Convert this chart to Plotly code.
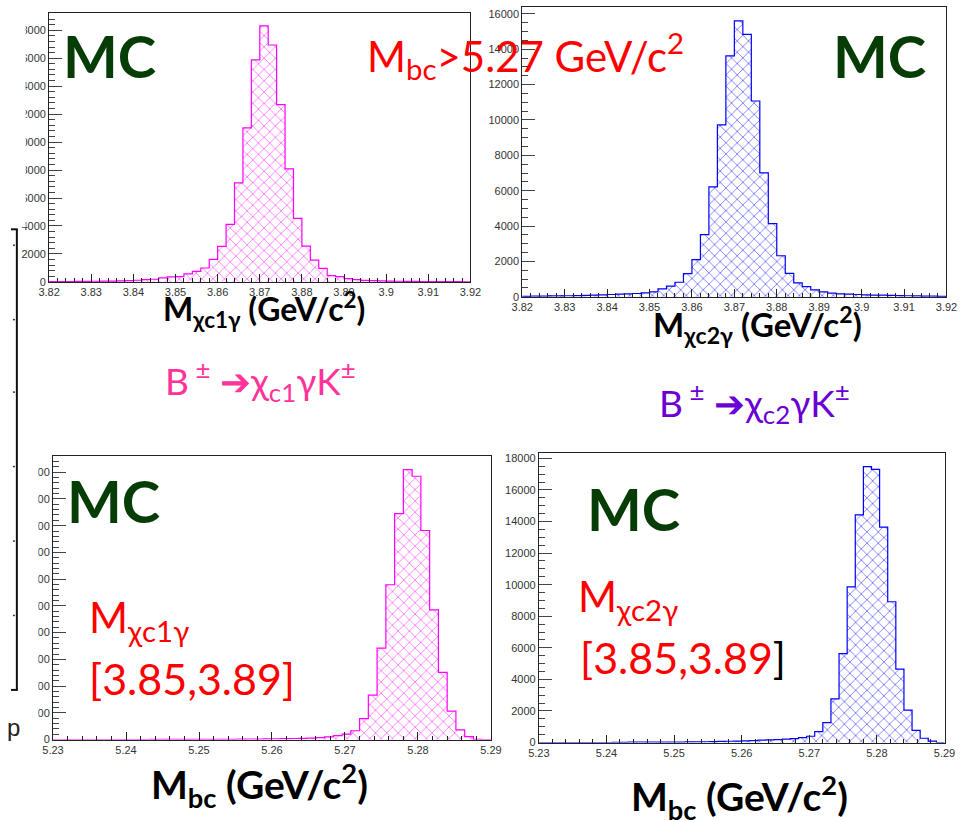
import numpy as np
import plotly.graph_objects as go

W, H = 978, 821

# Bin contents (50 bins each)
# M(chi_c1 gamma) for Mbc > 5.27, bins of 2 MeV over [3.82, 3.92]
chic1g_mass_counts = [20, 30, 30, 40, 40, 50, 60, 60, 80, 100, 120,
                      166, 190, 285, 355, 380, 570, 758, 995, 1611, 2536,
                      4123, 7085, 11019, 15877, 18318, 16943, 12678, 8081, 4550, 2559,
                      1564, 972, 450, 380, 237, 166, 118, 95,
                      70, 60, 50, 40, 40, 30, 30, 20, 20, 20, 10]
# M(chi_c2 gamma) for Mbc > 5.27
chic2g_mass_counts = [30, 40, 40, 50, 50, 60, 70, 80, 90, 110, 130, 150,
                      169, 187, 225, 281, 450, 600, 824, 1311, 2098,
                      3522, 6220, 9724, 13621, 15607, 14838, 11072, 7007, 4141, 2323,
                      1330, 787, 581, 393, 281, 206, 169, 150,
                      130, 110, 100, 90, 80, 70, 60, 50, 40, 40, 30]
# Mbc for chi_c1 gamma mass in [3.85, 3.89], bins of 1.2 MeV over [5.23, 5.29]
mbc_chic1_counts = [0, 0, 0, 0, 0, 0, 0, 0, 0, 0, 0,
                    10, 10, 10, 10, 10, 10, 10, 20, 20, 20,
                    30, 30, 40, 50, 60, 70, 80, 90, 100, 140,
                    200, 300, 400, 660, 1560, 3320, 6840, 11580, 16900, 20200,
                    19700, 15640, 9700, 5020, 2120, 720, 220, 20, 0]
# Mbc for chi_c2 gamma mass in [3.85, 3.89]
mbc_chic2_counts = [0, 0, 0, 0, 0, 0, 0, 0, 0, 10, 10,
                    20, 20, 20, 20, 30, 30, 30, 40, 40, 50,
                    60, 70, 80, 90, 100, 120, 150, 170, 188, 210,
                    251, 314, 398, 690, 1256, 2763, 5630, 9857, 14420, 17476,
                    17308, 13646, 8916, 4646, 2051, 774, 272, 84, 0]

MASS_RANGE = (3.82, 3.92)
MBC_RANGE = (5.23, 5.29)

MAGENTA = "#ff00ff"
BLUE = "#0000ff"
RED = "#ff0000"
DARK_GREEN = "#063d06"
PINK = "#ff3399"
PURPLE = "#6a00d4"


def px_x(px):
    return px / W


def px_y(py):
    return 1 - py / H


# panel boxes in pixels: (left, top, right, bottom), y max, minor y step
panels = [
    dict(counts=chic1g_mass_counts, rng=MASS_RANGE, color=MAGENTA,
         box=(39, 13, 470, 284), ymax=19240, yminor=400, xminor=0.002),
    dict(counts=chic2g_mass_counts, rng=MASS_RANGE, color=BLUE,
         box=(523, 7, 957, 299), ymax=16390, yminor=500, xminor=0.002),
    dict(counts=mbc_chic1_counts, rng=MBC_RANGE, color=MAGENTA,
         box=(43, 459, 491, 745), ymax=21240, yminor=400, xminor=0.002),
    dict(counts=mbc_chic2_counts, rng=MBC_RANGE, color=BLUE,
         box=(540, 456, 955, 748), ymax=18360, yminor=500, xminor=0.002),
]

tick_font = dict(family="Liberation Sans, Arial, sans-serif", size=11, color="#333333")

fig = go.Figure()
layout = dict(
    width=W, height=H,
    margin=dict(l=0, r=0, t=0, b=0, pad=0),
    paper_bgcolor="white", plot_bgcolor="white",
    showlegend=False, bargap=0, barmode="overlay",
)

for i, p in enumerate(panels, start=1):
    xa = "x" if i == 1 else f"x{i}"
    ya = "y" if i == 1 else f"y{i}"
    lo, hi = p["rng"]
    counts = p["counts"]
    n = len(counts)
    edges = np.linspace(lo, hi, n + 1)
    centers = 0.5 * (edges[:-1] + edges[1:])
    width = (hi - lo) / n

    # cross-hatched fill
    fig.add_trace(go.Bar(
        x=centers, y=counts, width=width, xaxis=xa, yaxis=ya,
        marker=dict(color="white", line=dict(width=0),
                    pattern=dict(shape="x", fgcolor=p["color"], bgcolor="white",
                                 size=8, solidity=0.22)),
        hoverinfo="skip",
    ))
    # step outline of the histogram
    fig.add_trace(go.Scatter(
        x=[edges[0]] + list(edges), y=[0] + list(counts) + [0],
        mode="lines", line=dict(color=p["color"], width=1.2, shape="hv"),
        xaxis=xa, yaxis=ya, hoverinfo="skip",
    ))

    l, t, r, b = p["box"]
    xkey = "xaxis" if i == 1 else f"xaxis{i}"
    ykey = "yaxis" if i == 1 else f"yaxis{i}"
    layout[xkey] = dict(
        domain=[px_x(l), px_x(r)], anchor=ya, range=[lo, hi],
        tickmode="linear", tick0=lo, dtick=0.01,
        ticks="inside", ticklen=8, tickwidth=1, tickcolor="#222",
        minor=dict(ticks="inside", ticklen=4, dtick=p["xminor"], tick0=lo, tickcolor="#222"),
        showline=True, linecolor="#222", linewidth=1, mirror=True,
        showgrid=False, zeroline=False, tickfont=tick_font, fixedrange=True,
    )
    layout[ykey] = dict(
        domain=[px_y(b), px_y(t)], anchor=xa, range=[0, p["ymax"]],
        tickmode="linear", tick0=0, dtick=2000, tickformat="d",
        ticks="inside", ticklen=13, tickwidth=1, tickcolor="#444",
        minor=dict(ticks="inside", ticklen=6, dtick=p["yminor"], tick0=0, tickcolor="#444"),
        showline=True, linecolor="#222", linewidth=1, mirror=True,
        showgrid=False, zeroline=False, tickfont=tick_font, fixedrange=True,
    )

fig.update_layout(**layout)

# white boxes covering the clipped tick labels at the left edge, then the
# remains of a neighbouring frame
shapes = [
    dict(type="rect", xref="paper", yref="paper", x0=0, x1=px_x(15), y0=px_y(229), y1=1,
         fillcolor="white", line=dict(width=0), layer="above"),
    dict(type="rect", xref="paper", yref="paper", x0=0, x1=px_x(28), y0=px_y(760), y1=px_y(452),
         fillcolor="white", line=dict(width=0), layer="above"),
    dict(type="line", xref="paper", yref="paper", x0=px_x(6), x1=px_x(6), y0=px_y(231), y1=px_y(695),
         line=dict(color="#111", width=2), layer="above"),
    dict(type="line", xref="paper", yref="paper", x0=0, x1=px_x(7), y0=px_y(231), y1=px_y(231),
         line=dict(color="#111", width=2), layer="above"),
    dict(type="line", xref="paper", yref="paper", x0=0, x1=px_x(7), y0=px_y(695), y1=px_y(695),
         line=dict(color="#111", width=2), layer="above"),
]
for dy in [247, 322, 395, 470, 545, 620]:
    shapes.append(dict(type="line", xref="paper", yref="paper",
                       x0=px_x(2), x1=px_x(4), y0=px_y(dy), y1=px_y(dy),
                       line=dict(color="#333", width=1.5), layer="above"))
fig.update_layout(shapes=shapes)


def ann(text, x, y, size, color, bold=False, xanchor="left", family="Lato, Open Sans, sans-serif"):
    fig.add_annotation(
        text=text, x=px_x(x), y=px_y(y), xref="paper", yref="paper",
        xanchor=xanchor, yanchor="middle", showarrow=False,
        font=dict(family=family, size=size, color=color, weight="bold" if bold else "normal"),
    )


# "MC" labels
for cx, cy in [(101, 56), (888, 56), (105, 504), (637, 512)]:
    ann("MC", cx, cy, 58, DARK_GREEN, bold=True, xanchor="center")

# selection captions
ann("M<sub>bc</sub>&gt;5.27 GeV/c<sup>2</sup>", 362, 56, 42, RED)
ann("B<sup> ±</sup> ➔χ<sub>c1</sub>γK<sup>±</sup>", 156, 383, 37, PINK)
ann("B<sup> ±</sup> ➔χ<sub>c2</sub>γK<sup>±</sup>", 661, 405, 37, PURPLE)

ann("M<sub>χc1γ</sub>", 78, 625, 42, RED)
ann("[3.85,3.89]", 78, 683, 43, RED)
ann("M<sub>χc2γ</sub>", 578, 603, 42, RED)
ann("[3.85,3.89<span style='color:black'>]</span>", 580, 662, 43, RED)

# axis titles
ann("M<sub>χc1γ</sub> (GeV/c<sup>2</sup>)", 153, 312, 32, "black", bold=True)
ann("M<sub>χc2γ</sub> (GeV/c<sup>2</sup>)", 655, 327, 33, "black", bold=True)
ann("M<sub>bc</sub> (GeV/c<sup>2</sup>)", 141, 791, 39, "black", bold=True)
ann("M<sub>bc</sub> (GeV/c<sup>2</sup>)", 632, 803, 39, "black", bold=True)

# stray glyph of the neighbouring plot
ann("p", 3, 733, 24, "#222", xanchor="center", family="Liberation Sans, sans-serif")

fig.write_html("out.html")
